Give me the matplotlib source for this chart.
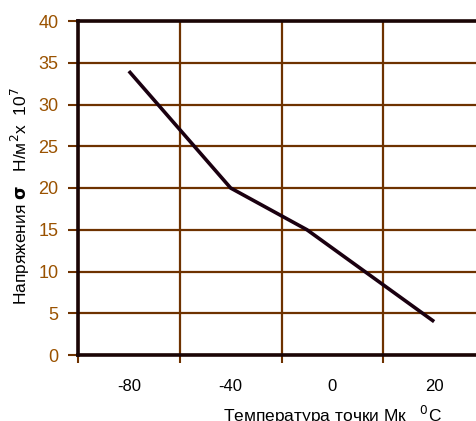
#! /usr/bin/env python3
"""
Stress vs Mk temperature, Excel-style category line chart
"""

import matplotlib
matplotlib.use("Agg")
from matplotlib import rcParams as rc
import matplotlib.pyplot as plt

# category labels on the x axis
temp_labels = ["-80", "-40", "0", "20"]
# line vertices, x in category units (0 = "-80", 3 = "20")
line_x = [0, 1, 1.75, 2, 3]
stress = [34, 20, 15, 12.8, 4]
y_ticks = [0, 5, 10, 15, 20, 25, 30, 35, 40]

grid_colour = "#6e3200"
tick_colour = "#9a5200"


def main():
    rc["font.family"] = ["Liberation Sans", "DejaVu Sans"]
    fig = plt.figure(figsize=(4.77, 4.21), dpi=100)
    # right edge runs past the figure, as in the original (cropped)
    ax = fig.add_axes([78 / 477, 66 / 421, 407 / 477, 334 / 421])
    ax.set_xlim(-0.5, 3.5)
    ax.set_ylim(0, 40)

    # category boundaries: grid + tick marks
    bounds = [i - 0.5 for i in range(len(temp_labels))]
    ax.set_xticks(bounds, minor=True)
    ax.set_xticks(range(len(temp_labels)))
    ax.set_xticklabels(temp_labels, fontsize=12, color="black")
    ax.tick_params(axis="x", which="major", length=0, pad=17)
    ax.tick_params(axis="x", which="minor", length=6, width=1.5,
                   color=grid_colour, direction="out")
    ax.grid(axis="x", which="minor", color=grid_colour, linewidth=1.6)

    ax.set_yticks(y_ticks)
    ax.tick_params(axis="y", length=7, width=1.5, color=grid_colour,
                   labelsize=13, labelcolor=tick_colour, pad=7)
    ax.grid(axis="y", which="major", color=grid_colour, linewidth=1.6)
    ax.set_axisbelow(True)

    for side in ("left", "bottom", "top"):
        ax.spines[side].set_linewidth(2.6)
        ax.spines[side].set_color("#1a0505")
    ax.spines["right"].set_visible(False)

    ax.plot(line_x, stress, color="#1a0010", linewidth=2.6,
            solid_capstyle="butt", clip_on=False, zorder=5)

    ax.set_xlabel("Температура точки Мк   $^{0}$С", fontsize=12.5)
    ax.xaxis.set_label_coords((333 - 78) / 407, -0.145)
    ax.set_ylabel("Напряжения $\\mathbf{\\sigma}$   Н/м$^{2}$x  10$^{7}$",
                  fontsize=12.5)
    ax.yaxis.set_label_coords(-0.112, 0.475)

    fig.savefig("out.png", dpi=100)


if __name__ == "__main__":
    main()
